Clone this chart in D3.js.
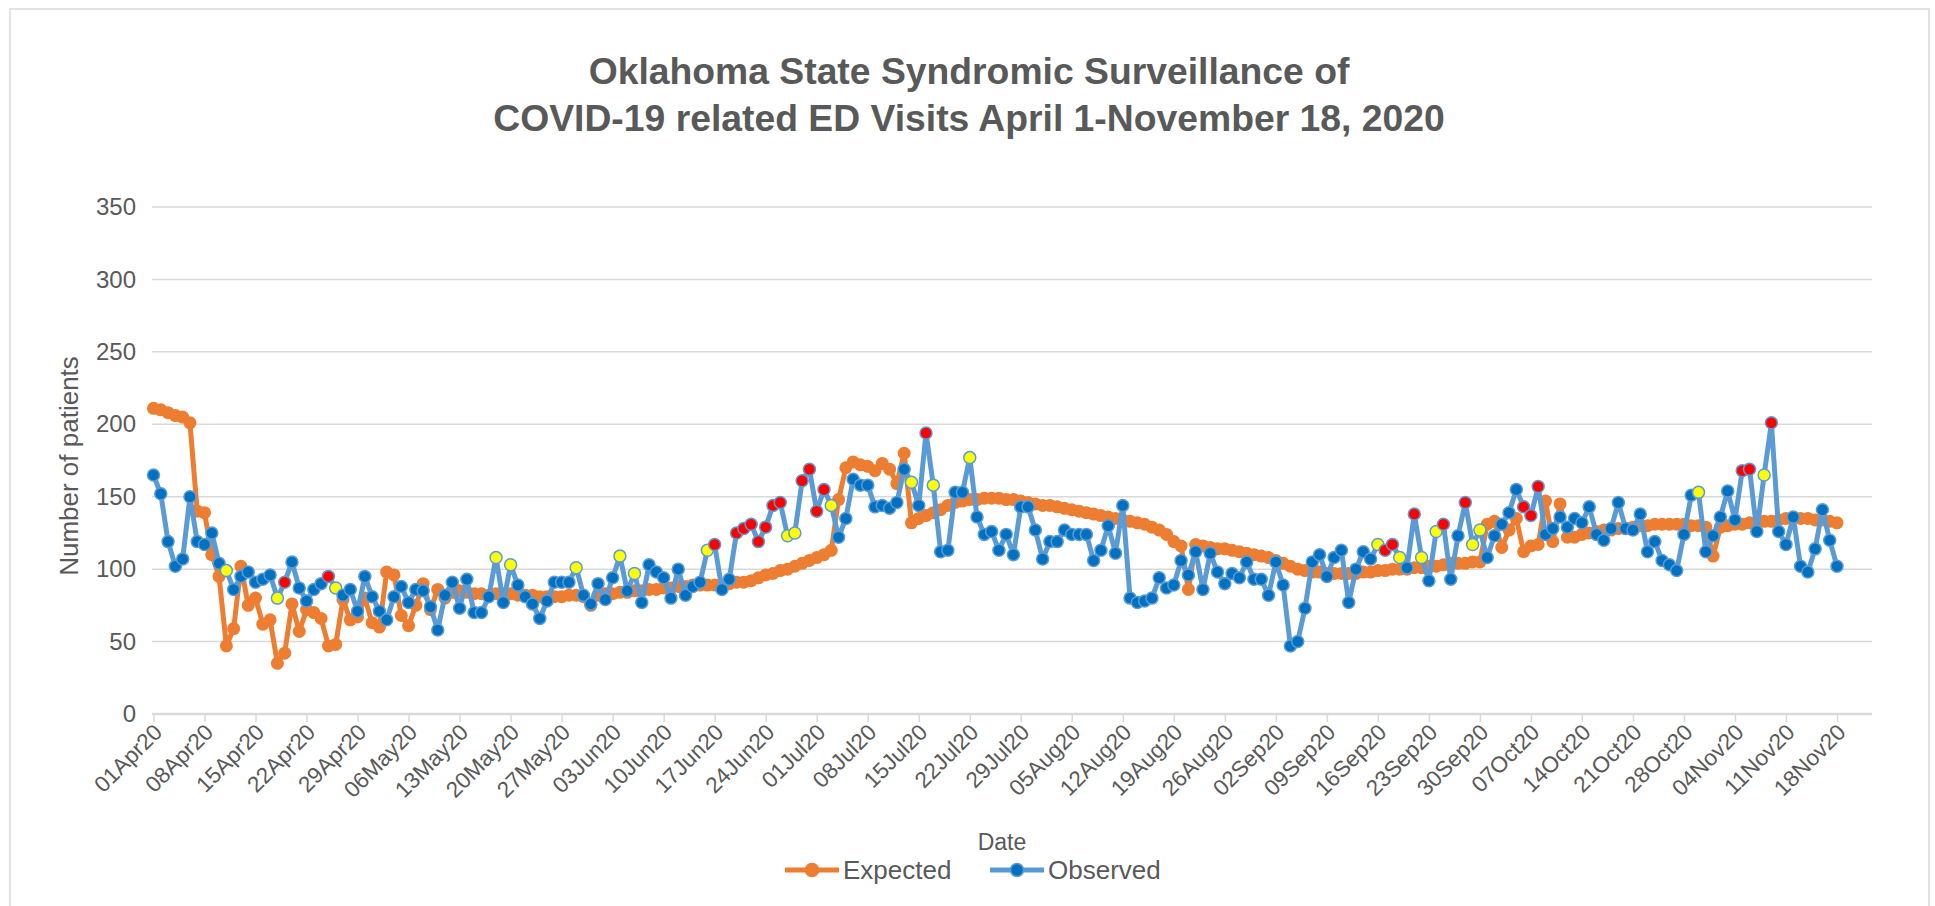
<!DOCTYPE html>
<html><head><meta charset="utf-8">
<script src="https://cdn.jsdelivr.net/npm/d3@7"></script>
<style>
body{margin:0;background:#fff;overflow:hidden;}
text{font-family:"Liberation Sans", Arial, sans-serif;}
</style></head><body>
<svg id="chart" width="1935" height="906"></svg>
<script>
// ---------- DATA ----------
const startDate = "2020-04-01";
const endDate = "2020-11-18";
const expected = [
211,210,208,206,205,201,140,139,110,95,
47,59,102,75,80,62,65,35,42,76,
57,72,70,66,47,48,79,65,67,80,
63,60,98,96,68,61,75,90,72,86,
80,84,85,84,83,83,82,83,83,83,
82,82,82,81,81,81,81,82,82,81,
75,82,83,83,84,84,85,85,86,86,
87,87,88,88,89,89,89,89,88,90,
91,91,92,94,96,97,99,100,102,104,
106,108,110,113,148,170,174,172,171,168,
173,169,159,180,132,135,137,139,141,144,
146,147,148,148,149,149,149,148,148,147,
146,145,144,144,143,142,141,140,139,138,
137,136,135,134,133,132,131,129,127,124,
119,116,86,117,116,115,114,114,113,112,
111,110,109,108,106,104,102,100,99,98,
98,97,97,97,97,97,98,98,99,99,
100,100,100,101,101,102,102,103,104,104,
104,105,105,131,133,115,127,135,112,116,
117,147,119,145,122,122,124,125,126,127,
127,128,128,129,130,130,131,131,131,131,
131,130,130,129,109,129,130,131,131,132,
132,133,133,134,135,135,135,135,134,134,
133,132];
const observed = [
165,152,119,102,107,150,119,117,125,104,
99,86,95,98,91,93,96,80,91,105,
87,78,86,90,95,87,82,86,71,95,
81,71,65,81,88,77,86,85,74,58,
82,91,73,93,70,70,81,108,77,103,
89,81,76,66,78,91,91,91,101,82,
76,90,79,94,109,85,97,77,103,98,
94,80,100,82,88,91,113,117,86,93,
125,128,131,119,129,144,146,123,125,161,
169,140,155,144,122,135,162,158,158,143,
144,142,146,169,160,144,194,158,112,113,
153,153,177,136,124,126,113,124,110,143,
143,127,107,119,119,127,124,124,124,106,
113,130,111,144,80,77,78,80,94,87,
89,106,96,112,86,111,98,90,97,94,
105,93,93,82,105,89,47,50,73,105,
110,95,108,113,77,100,112,107,117,113,
117,108,101,138,108,92,126,131,93,123,
146,117,127,108,123,131,139,155,143,137,
157,124,128,136,129,135,132,143,124,120,
128,146,128,127,138,112,119,106,103,99,
124,151,153,112,123,136,154,134,168,169,
126,165,201,126,117,136,102,98,114,141,
120,102];
// indices (days since 01Apr20) of flagged observed points
const redAlerts = [18,24,77,80,81,82,83,84,85,86,89,90,91,92,106,169,170,173,177,180,188,189,190,218,219,222];
const yellowAlerts = [10,17,25,47,49,58,64,66,76,87,88,93,104,107,112,168,171,174,176,181,182,212,221];
const yTicks = [0,50,100,150,200,250,300,350];
const xTickLabels = ["01Apr20","08Apr20","15Apr20","22Apr20","29Apr20","06May20","13May20","20May20","27May20",
"03Jun20","10Jun20","17Jun20","24Jun20","01Jul20","08Jul20","15Jul20","22Jul20","29Jul20","05Aug20","12Aug20",
"19Aug20","26Aug20","02Sep20","09Sep20","16Sep20","23Sep20","30Sep20","07Oct20","14Oct20","21Oct20","28Oct20",
"04Nov20","11Nov20","18Nov20"];
const titleLines = ["Oklahoma State Syndromic Surveillance of","COVID-19 related ED Visits April 1-November 18, 2020"];

// ---------- CHART ----------
const svg = d3.select("#chart");
const plotL = 152, plotR = 1872, plotT = 207, plotB = 714;
const dates = d3.utcDay.range(new Date(startDate+"T00:00:00Z"), d3.utcDay.offset(new Date(endDate+"T00:00:00Z"),1));
const parseTick = d3.utcParse("%d%b%y");
const tickDates = xTickLabels.map(parseTick);

const x = d3.scaleUtc().domain([dates[0], dates[dates.length-1]]).range([153.5, 1837]);
const y = d3.scaleLinear().domain([0,350]).range([plotB, plotT]);

const grey = "#595959", gridC = "#d9d9d9";
const blueLine = "#5b9bd5", blueFill = "#0070c0", orange = "#ed7d31";

// border
svg.append("rect").attr("x",10).attr("y",9).attr("width",1919).attr("height",1000)
  .attr("fill","#fff").attr("stroke",gridC).attr("stroke-width",1.5);

// title
svg.append("g").selectAll("text").data(titleLines).join("text")
  .attr("x",969).attr("y",(d,i)=>84+i*47).attr("text-anchor","middle")
  .attr("font-size",37.3).attr("font-weight","bold").attr("fill",grey).text(d=>d);

// gridlines
svg.append("g").selectAll("line").data(yTicks).join("line")
  .attr("x1",plotL).attr("x2",plotR).attr("y1",d=>y(d)).attr("y2",d=>y(d))
  .attr("stroke",gridC).attr("stroke-width",d=>d===0?2.5:1.5);

// y axis
const yAxis = svg.append("g").attr("transform",`translate(${plotL},0)`)
  .call(d3.axisLeft(y).tickValues(yTicks).tickSize(0).tickPadding(16));
yAxis.select(".domain").remove();
yAxis.selectAll("text").attr("font-size",24).attr("fill",grey).attr("font-family","Liberation Sans, Arial, sans-serif");

// x axis
const xAxis = svg.append("g").attr("transform",`translate(0,${plotB})`)
  .call(d3.axisBottom(x).tickValues(tickDates).tickFormat(d3.utcFormat("%d%b%y")).tickSize(8));
xAxis.select(".domain").remove();
xAxis.selectAll(".tick line").attr("stroke",gridC).attr("stroke-width",1.5);
xAxis.selectAll("text").attr("font-size",22.5).attr("fill",grey).attr("font-family","Liberation Sans, Arial, sans-serif")
  .attr("text-anchor","end").attr("dy","0.35em")
  .attr("transform","translate(4,14) rotate(-45)").attr("y",0).attr("x",0);

// axis titles
svg.append("text").attr("transform","translate(78,466) rotate(-90)").attr("text-anchor","middle")
  .attr("font-size",26).attr("fill",grey).text("Number of patients");
svg.append("text").attr("x",1002).attr("y",850).attr("text-anchor","middle")
  .attr("font-size",23).attr("fill",grey).text("Date");

// expected series
const line = d3.line().x((d,i)=>x(dates[i])).y(d=>y(d));
svg.append("path").datum(expected).attr("d",line).attr("fill","none")
  .attr("stroke",orange).attr("stroke-width",5).attr("stroke-linejoin","round");
svg.append("g").selectAll("circle").data(expected).join("circle")
  .attr("cx",(d,i)=>x(dates[i])).attr("cy",d=>y(d)).attr("r",6.5).attr("fill",orange);

// observed series
svg.append("path").datum(observed).attr("d",line).attr("fill","none")
  .attr("stroke",blueLine).attr("stroke-width",5).attr("stroke-linejoin","round");
const redSet = new Set(redAlerts), yelSet = new Set(yellowAlerts);
svg.append("g").selectAll("circle").data(observed).join("circle")
  .attr("cx",(d,i)=>x(dates[i])).attr("cy",d=>y(d)).attr("r",6)
  .attr("fill",(d,i)=>redSet.has(i)?"#ff0000":yelSet.has(i)?"#ffff00":blueFill)
  .attr("stroke",blueLine).attr("stroke-width",1.5);

// legend
const legend = [{name:"Expected", c:orange, f:orange, x:785},{name:"Observed", c:blueLine, f:blueFill, x:990}];
const lg = svg.append("g").selectAll("g").data(legend).join("g").attr("transform",d=>`translate(${d.x},870)`);
lg.append("line").attr("x1",0).attr("x2",54).attr("stroke",d=>d.c).attr("stroke-width",5);
lg.append("circle").attr("cx",27).attr("r",6.5).attr("fill",d=>d.f).attr("stroke",d=>d.c).attr("stroke-width",1.5);
lg.append("text").attr("x",58).attr("y",0).attr("dy","0.35em").attr("font-size",26).attr("fill",grey).text(d=>d.name);
</script>
</body></html>
